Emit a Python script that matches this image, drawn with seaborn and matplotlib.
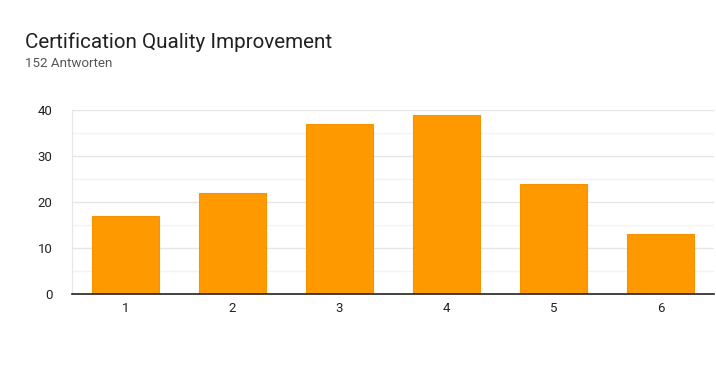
import matplotlib
matplotlib.use('Agg')
import matplotlib.pyplot as plt
import seaborn as sns
import pandas as pd

# chart data
categories = ['1', '2', '3', '4', '5', '6']
counts = [17, 22, 37, 39, 24, 13]
title = 'Certification Quality Improvement'
subtitle = '152 Antworten'

df = pd.DataFrame({'rating': categories, 'count': counts})

sns.set_style('white')
plt.rcParams['font.family'] = ['Roboto', 'DejaVu Sans']

fig = plt.figure(figsize=(7.16, 3.71), dpi=100)
ax = fig.add_axes([72 / 716, 1 - 294 / 371, 642 / 716, 184 / 371])

sns.barplot(data=df, x='rating', y='count', color='#ff9900', saturation=1,
            width=0.626, edgecolor='#f59300', linewidth=0.8, ax=ax, zorder=3)

ax.set_ylim(0, 40)
ax.set_xlim(-0.5, 5.5)
ax.set_yticks([0, 10, 20, 30, 40])
ax.set_yticks([5, 15, 25, 35], minor=True)
ax.grid(axis='y', which='major', color='#e6e6e6', linewidth=1, zorder=0)
ax.grid(axis='y', which='minor', color='#f3f3f3', linewidth=1, zorder=0)
ax.tick_params(axis='both', which='both', length=0, labelsize=9.5, colors='#222222')
ax.tick_params(axis='y', pad=14)
ax.tick_params(axis='x', pad=6)
ax.set_xlabel('')
ax.set_ylabel('')

for side in ['top', 'right']:
    ax.spines[side].set_visible(False)
ax.spines['left'].set_color('#e6e6e6')
ax.spines['bottom'].set_color('#222222')
ax.spines['bottom'].set_linewidth(1.2)
ax.spines['bottom'].set_zorder(4)

fig.text(25 / 716, 1 - 47.5 / 371, title, fontsize=14.9, color='#212121')
fig.text(25 / 716, 1 - 67 / 371, subtitle, fontsize=9.6, color='#555555')

fig.savefig('out.png', dpi=100)
